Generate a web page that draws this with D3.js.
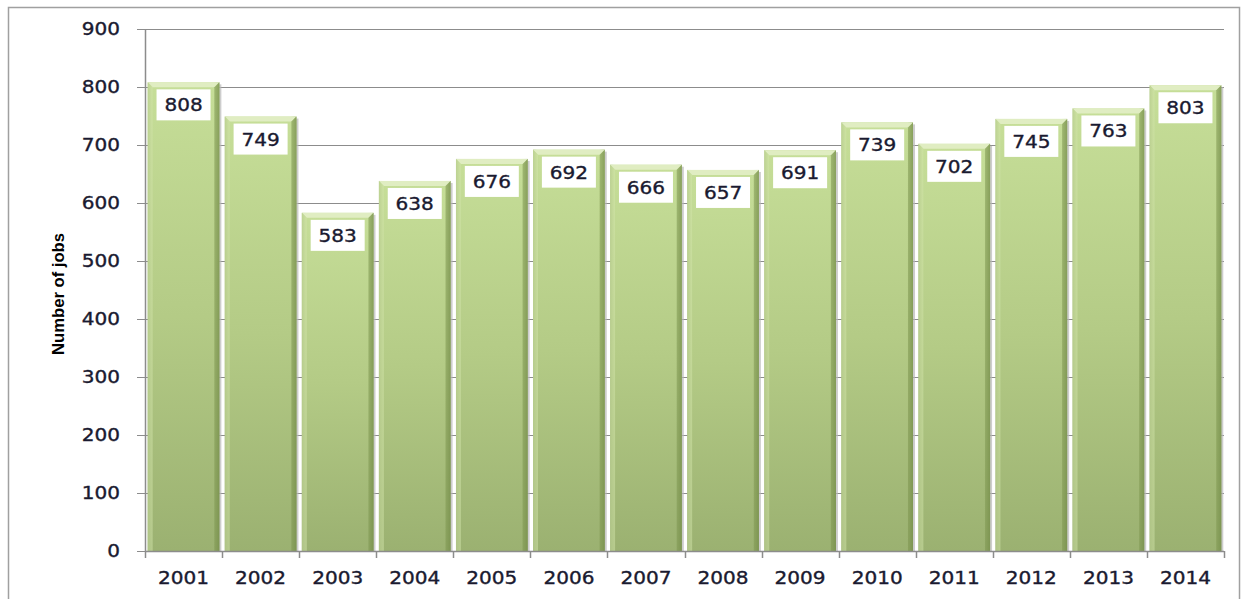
<!DOCTYPE html>
<html><head><meta charset="utf-8">
<script src="https://cdn.jsdelivr.net/npm/d3@7"></script>
<style>body{margin:0;background:#fff;font-family:"DejaVu Sans",Verdana,sans-serif}</style>
</head><body>
<svg id="c" width="1249" height="599"></svg>
<script>
const years = ["2001","2002","2003","2004","2005","2006","2007","2008","2009","2010","2011","2012","2013","2014"];
const jobs = [808,749,583,638,676,692,666,657,691,739,702,745,763,803];
const yTicks = [0,100,200,300,400,500,600,700,800,900];
const yTitle = "Number of jobs";

const svg = d3.select("#c");
const L = 145, R = 1224, T = 29, B = 551;
const SX = 1.18;
svg.append("rect").attr("x",8.5).attr("y",7.5).attr("width",1231).attr("height",600)
  .attr("fill","none").attr("stroke","#a0a0a0").attr("stroke-width",1.5);

const x = d3.scaleBand().domain(years).range([L,R]).paddingInner(0.07).paddingOuter(0.035);
const y = d3.scaleLinear().domain([0,900]).range([B,T]);

const defs = svg.append("defs");
const gv = defs.append("linearGradient").attr("id","gv").attr("x1",0).attr("y1",0).attr("x2",0).attr("y2",1);
gv.append("stop").attr("offset",0).attr("stop-color","#c6de98");
gv.append("stop").attr("offset",0.5).attr("stop-color","#b4cb86");
gv.append("stop").attr("offset",1).attr("stop-color","#9bb171");
const gh = defs.append("linearGradient").attr("id","gh").attr("x1",0).attr("y1",0).attr("x2",1).attr("y2",0);
gh.append("stop").attr("offset",0).attr("stop-color","#6f8a45").attr("stop-opacity",0.35);
gh.append("stop").attr("offset",0.06).attr("stop-color","#6f8a45").attr("stop-opacity",0);
gh.append("stop").attr("offset",0.92).attr("stop-color","#6f8a45").attr("stop-opacity",0);
gh.append("stop").attr("offset",1).attr("stop-color","#5d7636").attr("stop-opacity",0.5);

svg.append("g").selectAll("line").data(yTicks.filter(d=>d>0)).join("line")
  .attr("x1",L).attr("x2",R).attr("y1",d=>Math.round(y(d))+0.5).attr("y2",d=>Math.round(y(d))+0.5)
  .attr("stroke","#8c8c8c").attr("stroke-width",1);

function styleText(sel, size){
  sel.attr("font-size",size).attr("font-family","DejaVu Sans, sans-serif").attr("fill","#1a1a30")
     .attr("stroke","#1a1a30").attr("stroke-width",0.35);
}

const ya = svg.append("g").attr("transform",`translate(${L},0)`)
  .call(d3.axisLeft(y).tickValues(yTicks).tickSize(8));
ya.select(".domain").attr("stroke","#8c8c8c").attr("stroke-width",1.5).attr("d",`M0.5,${T}V${B}`);
ya.selectAll(".tick line").attr("stroke","#8c8c8c");
ya.selectAll(".tick text").attr("x",null).attr("transform",`translate(-25,0) scale(${SX},1)`);
styleText(ya.selectAll(".tick text"),17);

const bars = svg.append("g");
years.forEach((yr,i)=>{
  const bx = x(yr), bw = x.bandwidth(), by = y(jobs[i]), bh = B - by;
  bars.append("rect").attr("x",bx+2).attr("y",by+2).attr("width",bw).attr("height",bh-2).attr("fill","#b8b8b8").attr("opacity",0.7);
  bars.append("rect").attr("x",bx).attr("y",by).attr("width",bw).attr("height",bh).attr("fill","url(#gv)");
  bars.append("rect").attr("x",bx).attr("y",by).attr("width",bw).attr("height",bh).attr("fill","url(#gh)");
  bars.append("path").attr("d",`M${bx},${by}H${bx+bw}L${bx+bw-5},${by+5}H${bx+5}Z`).attr("fill","#e0edc2");
  bars.append("path").attr("d",`M${bx},${by}L${bx+5},${by+5}V${B}H${bx}Z`).attr("fill","#d2e4aa").attr("opacity",0.5);
  bars.append("path").attr("d",`M${bx+bw},${by}L${bx+bw-5},${by+5}V${B}H${bx+bw}Z`).attr("fill","#7d9650").attr("opacity",0.5);
  const cx = bx + bw/2;
  bars.append("rect").attr("x",cx-27).attr("y",by+7).attr("width",54).attr("height",31).attr("fill","#fff");
  const t = bars.append("text").attr("transform",`translate(${cx},${by+29}) scale(${SX},1)`).attr("text-anchor","middle").text(jobs[i]);
  styleText(t,17);
});

const xa = svg.append("g").attr("transform",`translate(0,${B})`)
  .call(d3.axisBottom(x).tickSize(0));
xa.select(".domain").attr("stroke","#8c8c8c").attr("stroke-width",1.5).attr("d",`M${L},0.5H${R}`);
xa.selectAll(".tick text").attr("y",null).attr("dy",null).attr("transform",`translate(0,33) scale(${SX},1)`);
styleText(xa.selectAll(".tick text"),17);
const bounds = years.map(yr=>x(yr)-x.step()*x.paddingInner()/2).concat([R]);
bounds[0] = L;
svg.append("g").selectAll("line").data(bounds).join("line")
  .attr("x1",d=>Math.round(d)+0.5).attr("x2",d=>Math.round(d)+0.5).attr("y1",B).attr("y2",B+7)
  .attr("stroke","#8c8c8c").attr("stroke-width",1.5);

svg.append("text").attr("transform",`translate(64,294) rotate(-90)`).attr("text-anchor","middle")
  .attr("font-family","Liberation Sans Narrow, Liberation Sans, Arial, sans-serif").attr("font-weight","bold")
  .attr("font-size",16).attr("textLength",122).attr("lengthAdjust","spacingAndGlyphs").attr("fill","#000").text(yTitle);
</script>
</body></html>
